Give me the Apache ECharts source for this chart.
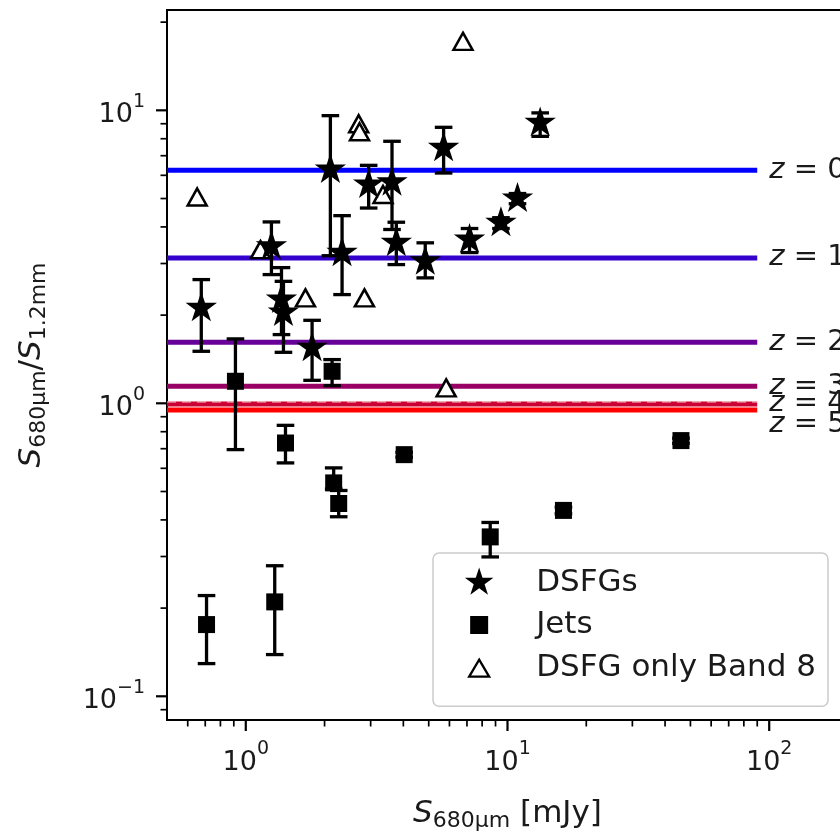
<!DOCTYPE html>
<html><head><meta charset="utf-8">
<script src="https://cdn.jsdelivr.net/npm/echarts@6/dist/echarts.min.js"></script>
<style>html,body{margin:0;padding:0;background:#fff}#c{width:840px;height:834px}</style>
</head><body><div id="c"></div>
<script>
// ---------- data ----------
const xMin = 0.5, xMax = 200;
const yMin = 0.083, yMax = 22;

// DSFGs (stars) with error bars
const dsfgX     = [0.676, 1.253, 1.369, 1.393, 1.792, 2.105, 2.333, 2.948, 3.62, 3.76, 4.85, 5.70, 7.16, 9.44, 10.92, 13.33];
const dsfgY     = [2.116, 3.435, 2.26,  2.04,  1.546, 6.276, 3.262, 5.576, 5.68, 3.53, 3.05, 7.44, 3.62, 4.13, 4.996, 9.06];
const dsfgErrLo = [1.505, 2.75,  1.716, 1.493, 1.198, 3.19,  2.35,  4.64,  3.92, 2.975, 2.68, 6.11, 3.27, 3.95, 4.80, 8.15];
const dsfgErrHi = [2.644, 4.16,  2.905, 2.608, 1.92,  9.59,  4.37,  6.49,  7.84, 4.15, 3.53, 8.75, 3.95, 4.30, 5.20, 9.80];

// Jets (squares) with error bars
const jetX     = [0.913, 1.418, 2.137, 2.167, 2.265, 4.03,  8.59,  16.36, 46.0,  0.708,  1.29];
const jetY     = [1.189, 0.732, 1.286, 0.535, 0.455, 0.668, 0.35,  0.431, 0.746, 0.1757, 0.21];
const jetErrLo = [0.695, 0.626, 1.149, 0.51,  0.41,  0.655, 0.299, 0.42,  0.73,  0.1293, 0.1388];
const jetErrHi = [1.659, 0.841, 1.41,  0.602, 0.504, 0.68,  0.392, 0.442, 0.76,  0.2207, 0.279];

// DSFG only Band 8 (open triangles)
const b8X = [6.76, 0.652, 2.70, 2.72, 3.345, 1.138, 1.69, 2.84, 5.83];
const b8Y = [17.2, 5.06,  9.0,  8.45, 5.16,  3.346, 2.29, 2.29, 1.129];

// redshift tracks
const zNames  = ['0', '1', '2', '3', '4', '5'];
const zRatio  = [6.24, 3.135, 1.615, 1.143, 0.995, 0.948];
const zLabelY = [6.24, 3.135, 1.615, 1.143, 1.0, 0.846];
const zLineX  = [0.5, 90];
const zLabelX = 100;
const zColors = ['#0000ff', '#3300cc', '#660099', '#990066', '#cc0033', '#ff0000'];
const unityY  = 1.01;

// ticks
const xMajorTicks = [1, 10, 100];
const xMinorTicks = [0.6, 0.7, 0.8, 0.9, 2, 3, 4, 5, 6, 7, 8, 9, 20, 30, 40, 50, 60, 70, 80, 90];
const yMajorTicks = [0.1, 1, 10];
const yMinorTicks = [0.09, 0.2, 0.3, 0.4, 0.5, 0.6, 0.7, 0.8, 0.9, 2, 3, 4, 5, 6, 7, 8, 9, 20];

// ---------- chart ----------
const FONT = 'DejaVu Sans';
const TXT = '#1a1a1a';

function starSymbol() {
  let d = 'M-1 -1 M1 1 ';
  for (let i = 0; i < 10; i++) {
    const r = i % 2 === 0 ? 1 : 0.381966;
    const a = -Math.PI / 2 + i * Math.PI / 5;
    d += (i === 0 ? 'M' : 'L') + (r * Math.cos(a)).toFixed(4) + ' ' + (r * Math.sin(a)).toFixed(4) + ' ';
  }
  return 'path://' + d + 'Z';
}
const STAR = starSymbol();
const SQUARE_ICON = 'path://M0 0 M30 30 M6 6 L24 6 L24 24 L6 24 Z';
const TRI_ICON = 'path://M0 0 M30 30 M15 6.5 L25 23.5 L5 23.5 Z';

function powLabel(v) {
  const e = Math.log10(v);
  const r = Math.round(e);
  if (Math.abs(e - r) > 1e-6) return '';
  return '{b|10}{s|' + (r < 0 ? '\u2212' + (-r) : r) + '}';
}
const tickRich = {
  b: { fontFamily: FONT, fontSize: 27, color: TXT, lineHeight: 36, verticalAlign: 'bottom' },
  s: { fontFamily: FONT, fontSize: 19, color: TXT, lineHeight: 19, verticalAlign: 'top' }
};
const nameRich = {
  i: { fontFamily: FONT, fontStyle: 'italic', fontSize: 31, color: TXT, lineHeight: 36, verticalAlign: 'middle' },
  sub: { fontFamily: FONT, fontSize: 22, color: TXT, lineHeight: 22, verticalAlign: 'bottom' },
  r: { fontFamily: FONT, fontSize: 31, color: TXT, lineHeight: 36, verticalAlign: 'middle' }
};

function errRender(params, api) {
  const x = api.value(0), lo = api.value(1), hi = api.value(2);
  const p1 = api.coord([x, lo]), p2 = api.coord([x, hi]);
  const hw = 8.8;
  const st = { stroke: '#000', lineWidth: 3.3 };
  return { type: 'group', children: [
    { type: 'line', shape: { x1: p1[0], y1: p1[1], x2: p2[0], y2: p2[1] }, style: st },
    { type: 'line', shape: { x1: p1[0] - hw, y1: p1[1], x2: p1[0] + hw, y2: p1[1] }, style: st },
    { type: 'line', shape: { x1: p2[0] - hw, y1: p2[1], x2: p2[0] + hw, y2: p2[1] }, style: st }
  ]};
}
function xTickRender(len) {
  return function (params, api) {
    const p = api.coord([api.value(0), yMin]);
    return { type: 'line', shape: { x1: p[0], y1: p[1], x2: p[0], y2: p[1] + len }, style: { stroke: '#000', lineWidth: len > 8 ? 2.2 : 1.7 } };
  };
}
function yTickRender(len) {
  return function (params, api) {
    const p = api.coord([xMin, api.value(1)]);
    return { type: 'line', shape: { x1: p[0], y1: p[1], x2: p[0] - len, y2: p[1] }, style: { stroke: '#000', lineWidth: len > 8 ? 2.2 : 1.7 } };
  };
}

const series = [];
// redshift lines
zRatio.forEach((r, i) => {
  series.push({
    name: 'z=' + zNames[i], type: 'line', silent: true, symbol: 'none', z: 1,
    data: [[zLineX[0], r], [zLineX[1], r]],
    lineStyle: { color: zColors[i], width: 5, opacity: 1 }
  });
});
// faint dashed unity line over the z=4/5 band
series.push({
  type: 'line', silent: true, symbol: 'none', z: 2,
  data: [[xMin, unityY], [xMax, unityY]],
  lineStyle: { color: 'rgba(255,255,255,0.75)', width: 1, type: [9, 6] }
});
// redshift labels
series.push({
  type: 'custom', silent: true, clip: false, z: 3,
  data: zLabelY.map((v, i) => [zLabelX, v, i]),
  renderItem: function (params, api) {
    const p = api.coord([api.value(0), api.value(1)]);
    return { type: 'text', x: p[0], y: p[1], style: {
      text: '{i|z} = ' + zNames[api.value(2)],
      fontFamily: FONT, fontSize: 29, fill: TXT, align: 'left', verticalAlign: 'middle',
      rich: { i: { fontFamily: FONT, fontStyle: 'italic', fontSize: 29, fill: TXT } }
    }};
  }
});
// triangles
series.push({
  name: 'DSFG only Band 8', type: 'scatter', z: 3,
  data: b8X.map((x, i) => [x, b8Y[i]]),
  symbol: 'triangle', symbolSize: [19, 17],
  itemStyle: { color: '#fff', borderColor: '#000', borderWidth: 2.5, opacity: 1 }
});
// error bars
series.push({
  type: 'custom', silent: true, z: 4, clip: false,
  data: dsfgX.map((x, i) => [x, dsfgErrLo[i], dsfgErrHi[i]]),
  encode: { x: 0, y: [1, 2] }, renderItem: errRender
});
series.push({
  type: 'custom', silent: true, z: 4, clip: false,
  data: jetX.map((x, i) => [x, jetErrLo[i], jetErrHi[i]]),
  encode: { x: 0, y: [1, 2] }, renderItem: errRender
});
series.push({
  name: 'DSFGs', type: 'scatter', z: 5,
  data: dsfgX.map((x, i) => [x, dsfgY[i]]),
  symbol: STAR, symbolSize: 33, symbolKeepAspect: true,
  itemStyle: { color: '#000', opacity: 1 }
});
series.push({
  name: 'Jets', type: 'scatter', z: 5,
  data: jetX.map((x, i) => [x, jetY[i]]),
  symbol: 'rect', symbolSize: 17,
  itemStyle: { color: '#000', opacity: 1 }
});
// ticks
series.push({ type: 'custom', silent: true, clip: false, z: 6, data: xMajorTicks.map(v => [v, yMin]), renderItem: xTickRender(11) });
series.push({ type: 'custom', silent: true, clip: false, z: 6, data: xMinorTicks.map(v => [v, yMin]), renderItem: xTickRender(6.5) });
series.push({ type: 'custom', silent: true, clip: false, z: 6, data: yMajorTicks.map(v => [xMin, v]), renderItem: yTickRender(11) });
series.push({ type: 'custom', silent: true, clip: false, z: 6, data: yMinorTicks.map(v => [xMin, v]), renderItem: yTickRender(6.5) });

const chart = echarts.init(document.getElementById('c'), null, { renderer: 'canvas' });
chart.setOption({
  animation: false,
  backgroundColor: '#fff',
  grid: { left: 167, top: 10, width: 681, height: 710, show: true, borderColor: '#000', borderWidth: 2, backgroundColor: '#fff', containLabel: false, outerBoundsMode: 'none' },
  xAxis: {
    type: 'log', logBase: 10, min: xMin, max: xMax,
    axisLine: { show: false }, axisTick: { show: false }, splitLine: { show: false }, minorTick: { show: false },
    axisLabel: { formatter: powLabel, rich: tickRich, margin: 20, hideOverlap: false },
    name: '{i|S}{sub|680μm}{r| [mJy]}', nameLocation: 'middle', nameGap: 76,
    nameTextStyle: { rich: nameRich }
  },
  yAxis: {
    type: 'log', logBase: 10, min: yMin, max: yMax,
    axisLine: { show: false }, axisTick: { show: false }, splitLine: { show: false }, minorTick: { show: false },
    axisLabel: { formatter: powLabel, rich: tickRich, margin: 22 },
    name: '{i|S}{sub|680μm}{r|/}{i|S}{sub|1.2mm}', nameLocation: 'middle', nameGap: 117, nameRotate: 90,
    nameTextStyle: { rich: nameRich }
  },
  legend: {
    left: 433, top: 553, orient: 'vertical', selectedMode: false,
    itemWidth: 30, itemHeight: 30, itemGap: 11.5,
    padding: [14, 12, 22, 30],
    backgroundColor: 'rgba(255,255,255,0.8)', borderColor: '#cccccc', borderWidth: 1.5, borderRadius: 6,
    textStyle: { fontFamily: FONT, fontSize: 31, color: TXT, padding: [0, 0, 0, 37] },
    data: [
      { name: 'DSFGs', icon: STAR },
      { name: 'Jets', icon: SQUARE_ICON },
      { name: 'DSFG only Band 8', icon: TRI_ICON, itemStyle: { color: '#fff', borderColor: '#000', borderWidth: 2.3 } }
    ]
  },
  series: series
});
</script>
</body></html>
